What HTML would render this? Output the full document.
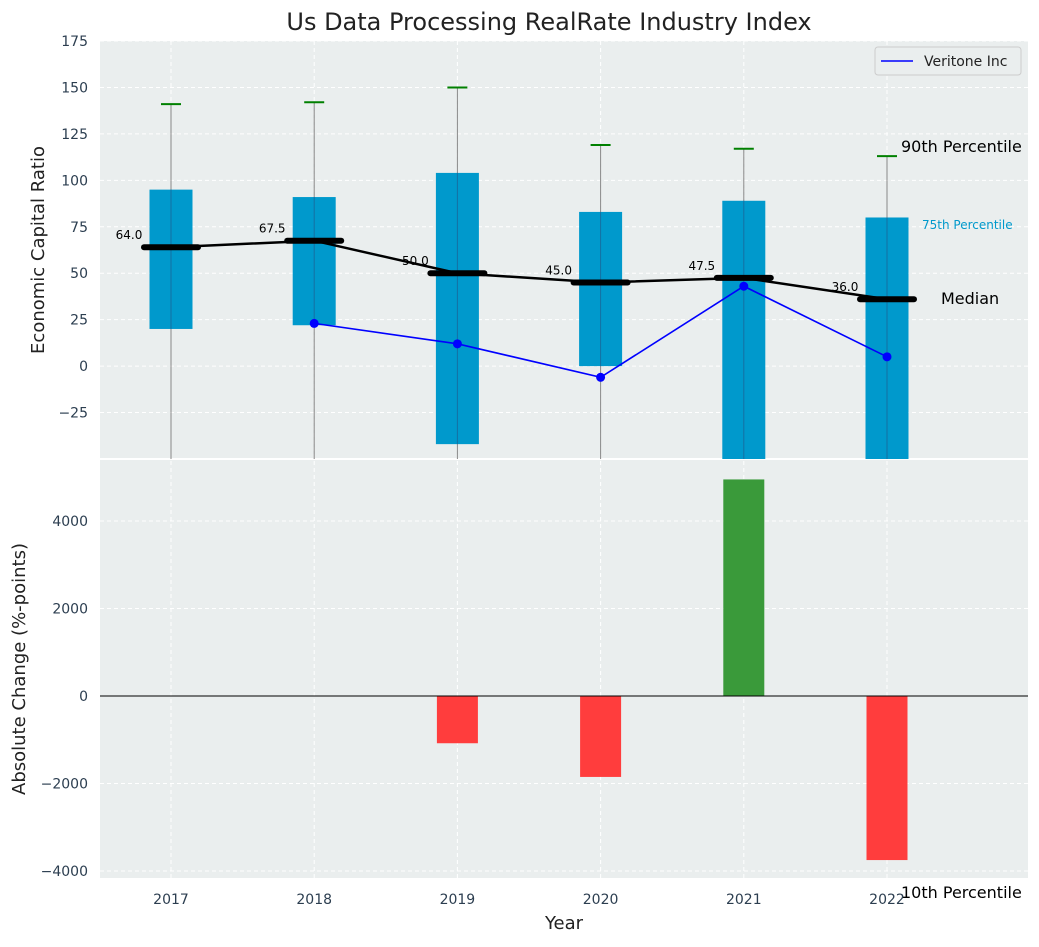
<!DOCTYPE html>
<html><head><meta charset="utf-8"><style>
body{margin:0;background:#fff;font-family:"Liberation Sans","DejaVu Sans",sans-serif}
svg text{font-family:"DejaVu Sans","Liberation Sans",sans-serif}
</style></head><body>
<svg id="c" width="1039" height="942"></svg>
<script>
const years=['2017','2018','2019','2020','2021','2022'];
const q75=[95,91,104,83,89,80];
const q25=[20,22,-42,0,-60,-60];
const p90=[141,142,150,119,117,113];
const p10=[-80,-80,-80,-80,-80,-80];
const medians=[64,67.5,50,45,47.5,36];
const veritone=[null,23,12,-6,43,5];
const changes=[null,null,-1080,-1850,4950,-3750];
const topTicks=[-25,0,25,50,75,100,125,150,175];
const botTicks=[-4000,-2000,0,2000,4000];
const NS='http://www.w3.org/2000/svg';
const svg=document.getElementById('c');
function el(t,a,txt){const e=document.createElementNS(NS,t);for(const k in a)e.setAttribute(k,a[k]);if(txt!=null)e.textContent=txt;svg.appendChild(e);return e;}
const L=100,R=1028,T1=41,B1=459,T2=459,B2=878;
const x=i=>171+i*143.2;
const y1=v=>T1+(175-v)/225*(B1-T1);
const y2=v=>696-v*0.04375;
const cl=v=>Math.max(T1,Math.min(B1,v));
let r=el('rect',{x:L,y:T1,width:R-L,height:B1-T1,fill:'#eaeeee'});
r=el('rect',{x:L,y:T2+1,width:R-L,height:B2-T2-1,fill:'#eaeeee'});
years.forEach((yr,i)=>{el('line',{x1:x(i),x2:x(i),y1:T1,y2:B2,stroke:'#fff','stroke-dasharray':'4,3','stroke-width':1});});
topTicks.forEach(t=>{el('line',{x1:L,x2:R,y1:y1(t),y2:y1(t),stroke:'#fff','stroke-dasharray':'4,3'});
 const tx=el('text',{x:L-12,y:y1(t)+5,'text-anchor':'end','font-size':14,fill:'#2c3e50'},t<0?'−'+(-t):t);});
botTicks.forEach(t=>{el('line',{x1:L,x2:R,y1:y2(t),y2:y2(t),stroke:'#fff','stroke-dasharray':'4,3'});
 const tx=el('text',{x:L-12,y:y2(t)+5,'text-anchor':'end','font-size':14,fill:'#2c3e50'},t<0?'−'+(-t):t);});
el('line',{x1:L,x2:R,y1:B1,y2:B1,stroke:'#fff','stroke-width':2});
// boxes
years.forEach((yr,i)=>{
 const wl=el('line',{x1:x(i),x2:x(i),y1:cl(y1(p90[i])),y2:cl(y1(p10[i])),stroke:'#888','stroke-width':1});
 const top=cl(y1(q75[i])),bot=cl(y1(q25[i]));
 const b=el('rect',{x:x(i)-21.5,y:top,width:43,height:bot-top,fill:'#0099cc'});
 el('line',{x1:x(i),x2:x(i),y1:top,y2:bot,stroke:'#336',opacity:0.4,'stroke-width':1});
 const c=el('line',{x1:x(i)-10,x2:x(i)+10,y1:y1(p90[i]),y2:y1(p90[i]),stroke:'green','stroke-width':2});
});
// median line
el('polyline',{points:medians.map((m,i)=>x(i)+','+y1(m)).join(' '),fill:'none',stroke:'#000','stroke-width':2.5});
medians.forEach((m,i)=>{const l=el('line',{x1:x(i)-27,x2:x(i)+27,y1:y1(m),y2:y1(m),stroke:'#000','stroke-width':6,'stroke-linecap':'round'});
 const t=el('text',{x:x(i)-42,y:y1(m)-8,'text-anchor':'middle','font-size':12,fill:'#000'},m.toFixed(1));});
// veritone
const vp=veritone.map((v,i)=>v==null?null:[x(i),y1(v)]).filter(p=>p);
el('polyline',{points:vp.map(p=>p.join(',')).join(' '),fill:'none',stroke:'blue','stroke-width':1.6});
vp.forEach(p=>{const c=el('circle',{cx:p[0],cy:p[1],r:4.5,fill:'blue'});});
// annotations
let a=el('text',{x:901,y:152,'font-size':16,fill:'#000'},'90th Percentile');
a=el('text',{x:922,y:229,'font-size':12,fill:'#0099cc'},'75th Percentile');
a=el('text',{x:941,y:304,'font-size':16,fill:'#000'},'Median');
a=el('text',{x:901,y:898,'font-size':16,fill:'#000'},'10th Percentile');
// bars
changes.forEach((v,i)=>{if(v==null)return;const b=el('rect',{x:x(i)-20.5,y:Math.min(y2(0),y2(v)),width:41,height:Math.abs(y2(v)-y2(0)),fill:v>=0?'#3a9a3a':'#ff3d3d'});});
el('line',{x1:L,x2:R,y1:y2(0),y2:y2(0),stroke:'#000','stroke-width':1});
years.forEach((yr,i)=>{const t=el('text',{x:x(i),y:904,'text-anchor':'middle','font-size':14,fill:'#2c3e50'},yr);});
// legend
const lg=el('rect',{x:875,y:47,width:146,height:28,fill:'#eaeeee',stroke:'#ccc',rx:3});
el('line',{x1:881,x2:913,y1:61,y2:61,stroke:'blue','stroke-width':1.6});
a=el('text',{x:924,y:66,'font-size':14,fill:'#222'},'Veritone Inc');
a=el('text',{x:549,y:30,'text-anchor':'middle','font-size':24,fill:'#222'},'Us Data Processing RealRate Industry Index');
a=el('text',{x:0,y:0,'text-anchor':'middle','font-size':18,fill:'#222',transform:'translate(44,250) rotate(-90)'},'Economic Capital Ratio');
a=el('text',{x:0,y:0,'text-anchor':'middle','font-size':18,fill:'#222',transform:'translate(25,669) rotate(-90)'},'Absolute Change (%-points)');
a=el('text',{x:564,y:929,'text-anchor':'middle','font-size':18,fill:'#222'},'Year');
</script></body></html>
